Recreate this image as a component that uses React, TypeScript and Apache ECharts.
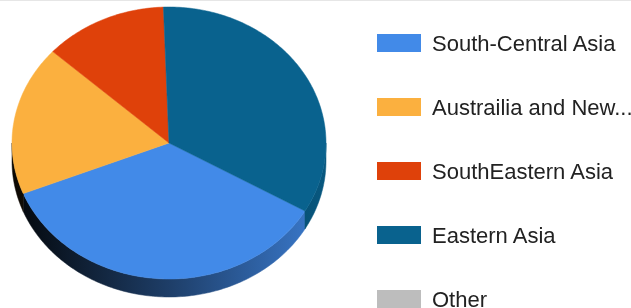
import React, { useEffect, useRef } from "react";
import * as echarts from "echarts";

const categories = [
  "South-Central Asia",
  "Austrailia and New...",
  "SouthEastern Asia",
  "Eastern Asia",
  "Other",
];
const values = [35.6, 17.8, 12.7, 33.9, 0];
const colors = ["#428ae8", "#fbb03f", "#df410a", "#09628e", "#bdbdbd"];
const startAngleDeg = 120; // clockwise from 12 o'clock

const CX = 169;
const CY = 143;
const RX = 157;
const RY = 136;
const DEPTH = 18;

function shade(hex: string, f: number): string {
  const n = parseInt(hex.slice(1), 16);
  const r = Math.round(((n >> 16) & 255) * f);
  const g = Math.round(((n >> 8) & 255) * f);
  const b = Math.round((n & 255) * f);
  return `rgb(${r},${g},${b})`;
}

function pt(deg: number, dy = 0): number[] {
  const r = (deg * Math.PI) / 180;
  return [CX + RX * Math.sin(r), CY - RY * Math.cos(r) + dy];
}

function arcPoints(a: number, b: number): number[][] {
  const n = Math.max(2, Math.ceil(b - a));
  const pts: number[][] = [];
  for (let i = 0; i <= n; i++) pts.push(pt(a + ((b - a) * i) / n));
  return pts;
}

export default function App() {
  const ref = useRef<HTMLDivElement>(null);
  useEffect(() => {
    if (!ref.current) return;
    const chart = echarts.init(ref.current, undefined, { renderer: "svg" });
    const total = values.reduce((s, v) => s + v, 0);

    const makeRender = (i: number) => (params: any, api: any) => {
      let acc = startAngleDeg;
      for (let j = 0; j < i; j++) acc += (values[j] / total) * 360;
      const s = acc % 360;
      const e = s + (values[i] / total) * 360;
      if (e - s <= 0.0001) return { type: "group", children: [] };
      const children: any[] = [];
      const grad = {
        type: "linear",
        x: CX - RX,
        y: 0,
        x2: CX + RX,
        y2: 0,
        global: true,
        colorStops: [
          { offset: 0, color: shade(colors[i], 0.04) },
          { offset: 0.5, color: shade(colors[i], 0.45) },
          { offset: 1, color: shade(colors[i], 0.9) },
        ],
      };
      for (const [lo, hi] of [
        [90, 270],
        [450, 630],
      ]) {
        const a = Math.max(s, lo);
        const b = Math.min(e, hi);
        if (b > a) {
          const top = arcPoints(a, b);
          const bottom = top.map((p) => [p[0], p[1] + DEPTH]).reverse();
          children.push({
            type: "polygon",
            shape: { points: top.concat(bottom) },
            style: { fill: grad, stroke: grad, lineWidth: 0.5 },
          });
        }
      }
      children.push({
        type: "polygon",
        shape: { points: [[CX, CY], ...arcPoints(s, e)] },
        style: { fill: colors[i], stroke: colors[i], lineWidth: 0.5 },
      });
      return { type: "group", children };
    };

    chart.setOption({
      animation: false,
      legend: {
        orient: "vertical",
        left: 377,
        top: 32,
        height: 400,
        padding: 0,
        itemWidth: 44,
        itemHeight: 18,
        itemGap: 42,
        icon: "rect",
        selectedMode: false,
        data: categories,
        textStyle: {
          fontSize: 22,
          color: "#222222",
          fontFamily: 'Arial, "Liberation Sans", sans-serif',
          padding: [0, 0, 0, 6],
        },
      },
      graphic: [
        {
          type: "line",
          shape: { x1: 0, y1: 0.5, x2: 631, y2: 0.5 },
          style: { stroke: "#e6e6e6", lineWidth: 1 },
        },
      ],
      series: categories.map((name, i) => ({
        type: "custom",
        name,
        coordinateSystem: "none",
        silent: true,
        itemStyle: { color: colors[i] },
        data: [[i]],
        renderItem: makeRender(i),
      })),
    });
    return () => chart.dispose();
  }, []);
  return (
    <div
      ref={ref}
      style={{ position: "fixed", left: 0, top: 0, width: 631, height: 308 }}
    />
  );
}
